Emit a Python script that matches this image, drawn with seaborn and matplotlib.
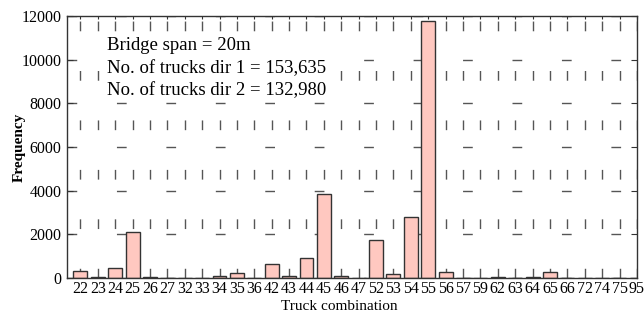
import pandas as pd
import matplotlib
matplotlib.use("Agg")
import matplotlib.pyplot as plt
import seaborn as sns

# Truck combination frequencies
combos = ["22", "23", "24", "25", "26", "27", "32", "33", "34", "35", "36",
          "42", "43", "44", "45", "46", "47", "52", "53", "54", "55", "56",
          "57", "59", "62", "63", "64", "65", "66", "72", "74", "75", "95"]
freqs = [300, 25, 460, 2120, 25, 0, 20, 0, 70, 250, 0,
         620, 80, 920, 3830, 110, 0, 1760, 200, 2800, 11750, 280,
         0, 0, 30, 0, 60, 270, 0, 0, 0, 0, 0]

info_lines = ["Bridge span = 20m",
              "No. of trucks dir 1 = 153,635",
              "No. of trucks dir 2 = 132,980"]

df = pd.DataFrame({"combo": combos, "freq": freqs})

sns.set_style("white")
plt.rcParams["font.family"] = ["Liberation Serif", "DejaVu Serif"]
plt.rcParams["text.color"] = "black"
plt.rcParams["axes.labelcolor"] = "black"
plt.rcParams["xtick.color"] = "black"
plt.rcParams["ytick.color"] = "black"

fig, ax = plt.subplots(figsize=(6.44, 3.12), dpi=100)
fig.subplots_adjust(left=0.104, right=0.989, bottom=0.109, top=0.949)

sns.barplot(data=df, x="combo", y="freq", order=combos, color="#FFC8C0",
            saturation=1, edgecolor="#333333", linewidth=1, width=0.8, ax=ax)

ax.set_xlim(-0.77, len(combos) - 1)
ax.set_ylim(0, 12000)
ax.set_yticks(range(0, 12001, 2000))

# sparse dashed grid like the original
ax.set_axisbelow(True)
ax.grid(True, axis="both", color="#555555", linewidth=1,
        linestyle=(0, (7, 28.6)))

ax.tick_params(axis="x", bottom=False, top=True, direction="in", length=2,
               labelsize=11.5, pad=2, color="#333333")
ax.tick_params(axis="y", left=True, right=True, direction="in", length=4,
               labelsize=11.5, pad=4, color="#333333")

for s in ax.spines.values():
    s.set_color("#333333")
    s.set_linewidth(1)

ax.set_xlabel("Truck combination", fontsize=11)
ax.xaxis.set_label_coords(0.478, -0.085)
ax.set_ylabel("Frequency", fontsize=11, fontweight="bold")
ax.yaxis.set_label_coords(-0.073, 0.5)

ax.text(0.07, 0.92, "\n".join(info_lines), transform=ax.transAxes,
        fontsize=13.5, va="top", ha="left", linespacing=1.45,
        bbox=dict(facecolor="white", edgecolor="none", pad=1))

fig.savefig("out.png", dpi=100)
